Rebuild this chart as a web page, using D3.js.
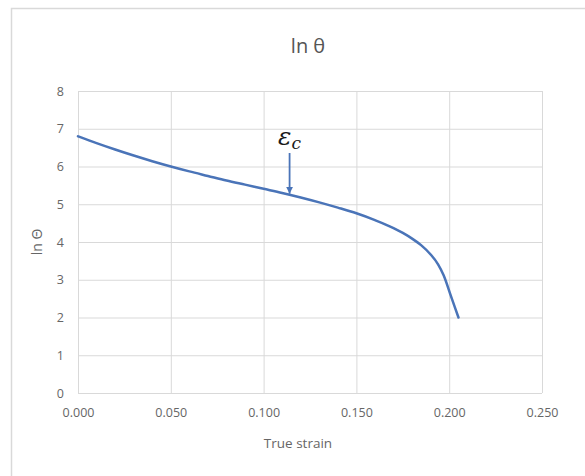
<!DOCTYPE html>
<html>
<head>
<meta charset="utf-8">
<script src="https://cdn.jsdelivr.net/npm/d3@7"></script>
<style>
  html, body { margin: 0; padding: 0; background: #fff; }
  svg { display: block; }
</style>
</head>
<body>
<svg id="chart" width="585" height="476"></svg>
<script>
// True strain vs ln θ (work-hardening rate)
const strain = [0.000, 0.010, 0.020, 0.030, 0.040, 0.050, 0.060, 0.070, 0.080, 0.090,
                0.100, 0.110, 0.120, 0.130, 0.140, 0.150, 0.160, 0.170, 0.175, 0.180,
                0.185, 0.190, 0.194, 0.197, 0.201, 0.205];
const lnTheta = [6.80, 6.62, 6.45, 6.29, 6.14, 6.00, 5.87, 5.75, 5.63, 5.52,
                 5.41, 5.30, 5.18, 5.05, 4.91, 4.76, 4.58, 4.37, 4.24, 4.09,
                 3.91, 3.67, 3.41, 3.12, 2.56, 2.00];
const xTicks = [0, 0.05, 0.10, 0.15, 0.20, 0.25];
const yTicks = [0, 1, 2, 3, 4, 5, 6, 7, 8];
const criticalStrain = 0.114;

const svg = d3.select("#chart");
const W = 585, H = 476;
const plot = { left: 78, right: 542, top: 91, bottom: 393 };
const textColor = "#666666";
const gridColor = "#d9d9d9";
const lineColor = "#4a74b8";
const font = "'Open Sans', 'Liberation Sans', sans-serif";

// chart frame
svg.append("rect")
  .attr("x", 11.5).attr("y", 8.5)
  .attr("width", W).attr("height", H)
  .attr("fill", "#fff").attr("stroke", "#d9d9d9").attr("stroke-width", 1.5);

const x = d3.scaleLinear().domain([0, 0.25]).range([plot.left, plot.right]);
const y = d3.scaleLinear().domain([0, 8]).range([plot.bottom, plot.top]);

// gridlines
svg.append("g")
  .attr("transform", `translate(0,${plot.bottom})`)
  .call(d3.axisBottom(x).tickValues(xTicks).tickSize(-(plot.bottom - plot.top)).tickFormat(""))
  .call(g => g.select(".domain").remove())
  .call(g => g.selectAll("line").attr("stroke", gridColor));
svg.append("g")
  .attr("transform", `translate(${plot.left},0)`)
  .call(d3.axisLeft(y).tickValues(yTicks).tickSize(-(plot.right - plot.left)).tickFormat(""))
  .call(g => g.select(".domain").remove())
  .call(g => g.selectAll("line").attr("stroke", gridColor));

// tick labels
svg.append("g")
  .attr("transform", `translate(0,${plot.bottom})`)
  .call(d3.axisBottom(x).tickValues(xTicks).tickSize(0).tickPadding(15).tickFormat(d3.format(".3f")))
  .call(g => g.select(".domain").remove())
  .call(g => g.selectAll("text").attr("fill", textColor).style("font", `12.5px ${font}`));
svg.append("g")
  .attr("transform", `translate(${plot.left},0)`)
  .call(d3.axisLeft(y).tickValues(yTicks).tickSize(0).tickPadding(14).tickFormat(d3.format("d")))
  .call(g => g.select(".domain").remove())
  .call(g => g.selectAll("text").attr("fill", textColor).style("font", `12.5px ${font}`));

// titles
svg.append("text")
  .attr("x", 308).attr("y", 53).attr("text-anchor", "middle")
  .attr("fill", "#555").style("font", `20px ${font}`)
  .text("ln θ");
svg.append("text")
  .attr("x", 298).attr("y", 448).attr("text-anchor", "middle")
  .attr("fill", textColor).style("font", `13.5px ${font}`)
  .text("True strain");
svg.append("text")
  .attr("transform", `translate(42,${(plot.top + plot.bottom) / 2}) rotate(-90)`)
  .attr("text-anchor", "middle")
  .attr("fill", textColor).style("font", `14px ${font}`)
  .text("ln Θ");

// curve
const pts = strain.map((s, i) => [s, lnTheta[i]]);
svg.append("path")
  .datum(pts)
  .attr("fill", "none").attr("stroke", lineColor).attr("stroke-width", 2.5)
  .attr("stroke-linejoin", "round").attr("stroke-linecap", "round")
  .attr("d", d3.line().x(d => x(d[0])).y(d => y(d[1])).curve(d3.curveMonotoneX));

// critical strain arrow, tip placed on the curve
function interp(s) {
  const i = d3.bisectRight(strain, s) - 1;
  const t = (s - strain[i]) / (strain[i + 1] - strain[i]);
  return lnTheta[i] + t * (lnTheta[i + 1] - lnTheta[i]);
}
const ax = x(criticalStrain), tipY = y(interp(criticalStrain)) - 1;
svg.append("defs").append("marker")
  .attr("id", "arrowhead").attr("viewBox", "0 0 10 10")
  .attr("refX", 10).attr("refY", 5)
  .attr("markerWidth", 4).attr("markerHeight", 4).attr("orient", "auto")
  .append("path").attr("d", "M0,0 L10,5 L0,10 z").attr("fill", lineColor);
svg.append("line")
  .attr("x1", ax).attr("x2", ax)
  .attr("y1", 153).attr("y2", tipY)
  .attr("stroke", lineColor).attr("stroke-width", 1.8)
  .attr("marker-end", "url(#arrowhead)");
const lab = svg.append("text")
  .attr("x", ax).attr("y", 145).attr("text-anchor", "middle")
  .attr("fill", "#1a1a1a").style("font", "italic 25px 'DejaVu Serif', 'Liberation Serif', serif");
lab.append("tspan").text("ε");
lab.append("tspan").attr("dy", 4).style("font-size", "17px").text("c");
</script>
</body>
</html>
